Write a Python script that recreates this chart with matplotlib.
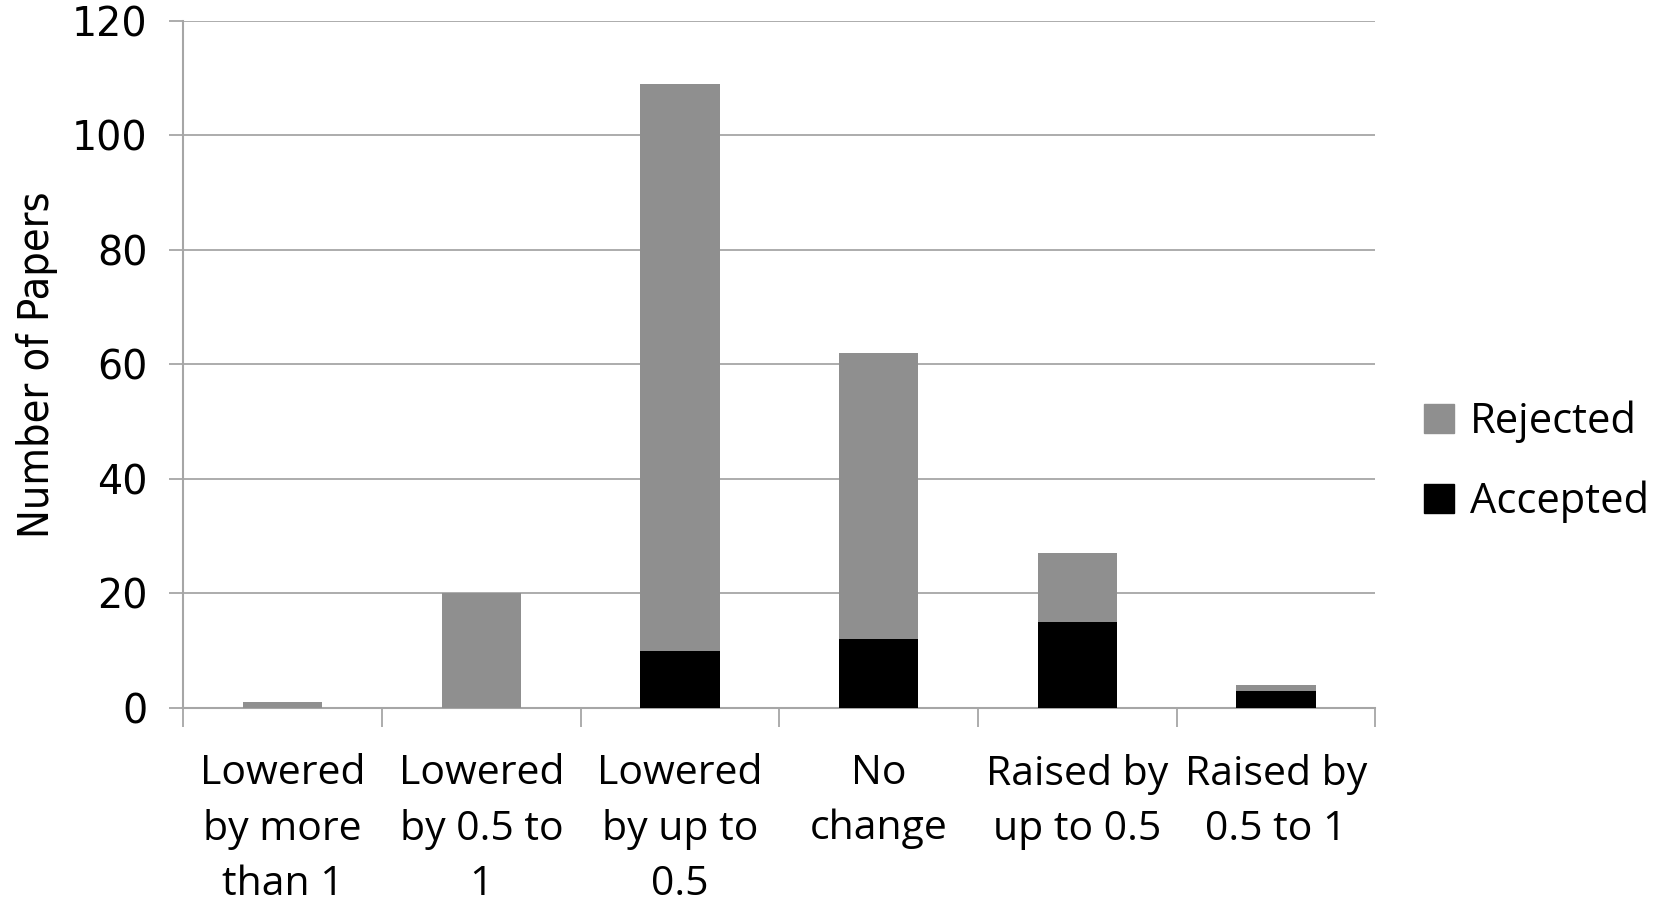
import numpy as np
from matplotlib import pyplot as plt
from matplotlib.patches import Patch

categorias = ["Lowered\nby more\nthan 1", "Lowered\nby 0.5 to\n1", "Lowered\nby up to\n0.5",
              "No\nchange", "Raised by\nup to 0.5", "Raised by\n0.5 to 1"]
aceptados = [0, 0, 10, 12, 15, 3]
rechazados = [1, 20, 99, 50, 12, 1]
ticks_y = [0, 20, 40, 60, 80, 100, 120]

gris_barra = "#8f8f8f"
gris_linea = "#a6a6a6"

fig = plt.figure(figsize=(16.67, 9.05), dpi=100)
ax = fig.add_axes([0.110, 0.2177, 0.715, 0.7593])

x = np.arange(len(categorias))
ax.bar(x, aceptados, width=0.4, color="black", zorder=3)
ax.bar(x, rechazados, width=0.4, bottom=aceptados, color=gris_barra, zorder=3)

ax.set_xlim(-0.5, len(categorias) - 0.5)
ax.set_ylim(0, 120)
ax.set_yticks(ticks_y)
ax.set_yticklabels([str(t) for t in ticks_y], fontsize=28.5, family=["DejaVu Sans"])
ax.yaxis.grid(True, color=gris_linea, linewidth=1.3, zorder=0)
ax.set_axisbelow(True)

# ticks del eje x en los limites de cada categoria, etiquetas en el centro
ax.set_xticks(np.arange(len(categorias) + 1) - 0.5)
ax.set_xticklabels([])
ax.set_xticks(x, minor=True)
ax.set_xticklabels(categorias, minor=True, fontsize=29.5, family=["Open Sans"], linespacing=1.47)
ax.tick_params(axis="x", which="major", length=14, width=1.3, color=gris_linea, direction="out")
ax.tick_params(axis="x", which="minor", length=0, pad=33)
ax.tick_params(axis="y", length=10, width=1.3, color=gris_linea, pad=16)

for lado in ["top", "right"]:
    ax.spines[lado].set_visible(False)
for lado in ["left", "bottom"]:
    ax.spines[lado].set_color(gris_linea)
    ax.spines[lado].set_linewidth(1.5)

ax.set_ylabel("Number of Papers", fontsize=31, family=["Liberation Sans Narrow", "DejaVu Sans"],
              fontstretch="condensed", labelpad=10)

handles = [Patch(color=gris_barra, label="Rejected"), Patch(color="black", label="Accepted")]
fig.legend(handles=handles, loc="center left", bbox_to_anchor=(0.832, 0.49), frameon=False,
           prop={"family": "Open Sans", "size": 30}, handlelength=0.7, handleheight=0.7,
           handletextpad=0.4, labelspacing=0.9)

fig.savefig("out.png", dpi=100)
